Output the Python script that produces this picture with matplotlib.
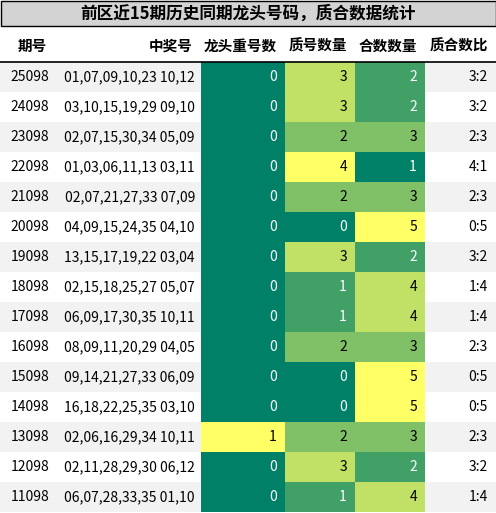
import matplotlib
matplotlib.use("Agg")
import matplotlib.pyplot as plt
from matplotlib import cm, colors

plt.rcParams['font.family'] = ['Noto Sans CJK SC', 'DejaVu Sans']

title = "前区近15期历史同期龙头号码，质合数据统计"
headers = ["期号", "中奖号", "龙头重号数", "质号数量", "合数数量", "质合数比"]
periods = ["25098","24098","23098","22098","21098","20098","19098","18098","17098","16098","15098","14098","13098","12098","11098"]
numbers = ["01,07,09,10,23 10,12","03,10,15,19,29 09,10","02,07,15,30,34 05,09","01,03,06,11,13 03,11",
           "02,07,21,27,33 07,09","04,09,15,24,35 04,10","13,15,17,19,22 03,04","02,15,18,25,27 05,07",
           "06,09,17,30,35 10,11","08,09,11,20,29 04,05","09,14,21,27,33 06,09","16,18,22,25,35 03,10",
           "02,06,16,29,34 10,11","02,11,28,29,30 06,12","06,07,28,33,35 01,10"]
repeat = [0,0,0,0,0,0,0,0,0,0,0,0,1,0,0]
primes = [3,3,2,4,2,0,3,1,1,2,0,0,2,3,1]
composites = [2,2,3,1,3,5,2,4,4,3,5,5,3,2,4]
ratios = ["3:2","3:2","2:3","4:1","2:3","0:5","3:2","1:4","1:4","2:3","0:5","0:5","2:3","3:2","1:4"]

W, H = 496, 513
fig = plt.figure(figsize=(W/100, H/100), dpi=100)
ax = fig.add_axes([0, 0, 1, 1])
ax.set_xlim(0, W); ax.set_ylim(H, 0); ax.axis('off')

col_edges = [0, 55, 201, 285, 355, 425, 496]
title_h, head_b, row_h = 25, 62, 30

ax.add_patch(plt.Rectangle((0.5, 0.5), W-1, title_h, facecolor='#d3d3d3', edgecolor='black', lw=1))
ax.text(W/2, title_h/2+1, title, ha='center', va='center', fontsize=12, fontweight='bold')
for i, h in enumerate(headers):
    x = col_edges[i+1]-8
    ax.text(x, (title_h+head_b)/2+2, h, ha='right', va='center', fontsize=10.5, fontweight='bold')
ax.plot([0, W], [head_b, head_b], color='black', lw=1.2)

cmap = plt.get_cmap('summer')
numcols = [repeat, primes, composites]
for r in range(len(periods)):
    y0 = head_b + r*row_h
    bg = '#f2f2f2' if r % 2 == 0 else 'white'
    ax.add_patch(plt.Rectangle((0, y0), W, row_h, facecolor=bg, edgecolor='none'))
    yc = y0 + row_h/2
    ax.text(col_edges[1]-6, yc, periods[r], ha='right', va='center', fontsize=10)
    ax.text(col_edges[2]-6, yc, numbers[r], ha='right', va='center', fontsize=10)
    for k, vals in enumerate(numcols):
        norm = colors.Normalize(min(vals), max(vals))
        t = norm(vals[r])
        ax.add_patch(plt.Rectangle((col_edges[2+k], y0), col_edges[3+k]-col_edges[2+k], row_h,
                                   facecolor=cmap(t), edgecolor='none'))
        ax.text(col_edges[3+k]-8, yc, str(vals[r]), ha='right', va='center', fontsize=10,
                color='white' if t < 0.5 else 'black')
    ax.text(col_edges[6]-8, yc, ratios[r], ha='right', va='center', fontsize=10)

fig.savefig('out.png', dpi=100)
